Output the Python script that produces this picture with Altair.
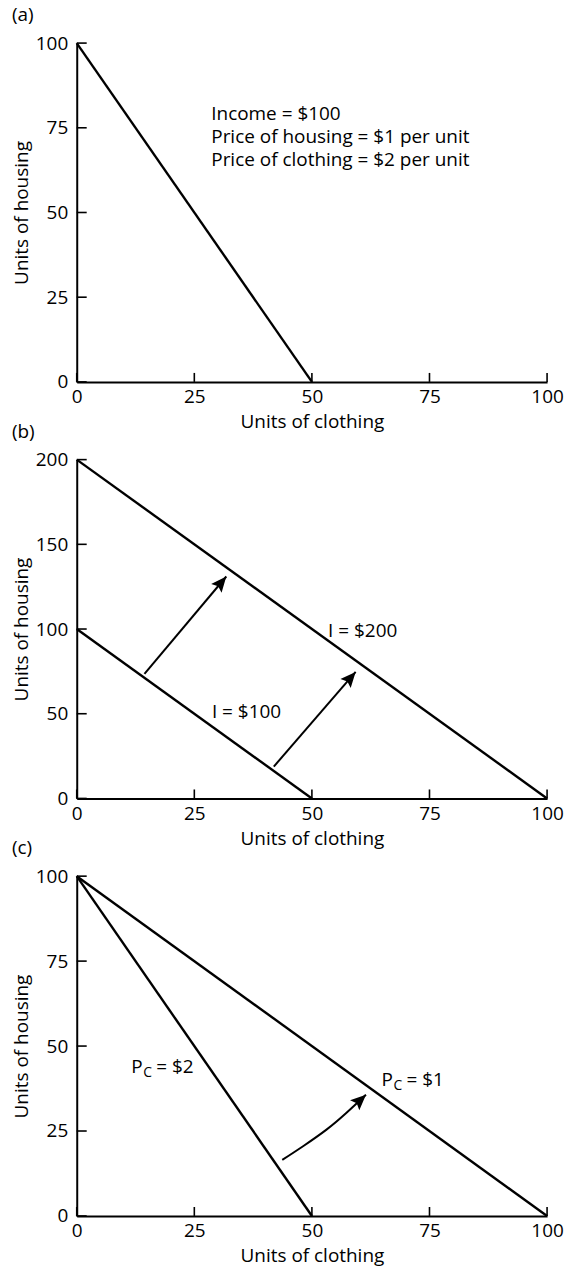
import math
import altair as alt
import pandas as pd

FONT = "Open Sans"
FS = 19
W = 472
H = 340

# ---- data -------------------------------------------------------------
x_ticks = [0, 25, 50, 75, 100]

# (a) one budget line: income $100, P_housing $1, P_clothing $2
a_line_x = [0, 50]
a_line_y = [100, 0]
a_y_ticks = [0, 25, 50, 75, 100]
a_note = ["Income = $100",
          "Price of housing = $1 per unit",
          "Price of clothing = $2 per unit"]
a_note_x = [28.6, 28.6, 28.6]
a_note_y = [79.2, 72.3, 65.4]

# (b) income rises from $100 to $200
b_low_x = [0, 50]
b_low_y = [100, 0]
b_high_x = [0, 100]
b_high_y = [200, 0]
b_y_ticks = [0, 50, 100, 150, 200]
b_arrow1_x = [14.4, 31.8]
b_arrow1_y = [73.5, 131.0]
b_arrow2_x = [41.9, 59.3]
b_arrow2_y = [18.8, 74.7]
b_labels = ["I = $100", "I = $200"]
b_label_x = [36.1, 60.8]
b_label_y = [51.0, 98.8]

# (c) price of clothing falls from $2 to $1
c_pc2_x = [0, 50]
c_pc2_y = [100, 0]
c_pc1_x = [0, 100]
c_pc1_y = [100, 0]
c_y_ticks = [0, 25, 50, 75, 100]
c_curve_x = [43.7, 48.2, 53.1, 57.3, 61.5]
c_curve_y = [16.5, 20.6, 25.4, 30.3, 35.7]
c_label_values = ["$2", "$1"]
c_label_x = [11.6, 64.8]
c_label_y = [43.9, 40.1]

# arrowhead drawn with its tip at the symbol origin, pointing up
HEAD = "M0,0 L0.44,1 L0,0.82 L-0.44,1 Z"


def xs():
    return alt.Scale(domain=[0, 100], nice=False, zero=True)


def ys(ymax):
    return alt.Scale(domain=[0, ymax], nice=False)


def enc_xy(ymax):
    # every layer uses the same field names so the shared axes merge cleanly
    return dict(x=alt.X("x:Q", scale=xs()), y=alt.Y("y:Q", scale=ys(ymax)))


def base_lines(series, ymax, y_ticks):
    rows = []
    for name, xv, yv in series:
        for i, (x, y) in enumerate(zip(xv, yv)):
            rows.append({"s": name, "x": x, "y": y, "o": i})
    df = pd.DataFrame(rows)
    return alt.Chart(df).mark_line(color="black", strokeWidth=2.4).encode(
        x=alt.X("x:Q", scale=xs(), title="Units of clothing",
                axis=alt.Axis(values=x_ticks, format="d")),
        y=alt.Y("y:Q", scale=ys(ymax), title="Units of housing",
                axis=alt.Axis(values=y_ticks, format="d")),
        detail="s:N",
        order="o:Q",
    )


def tick_layers(y_ticks, ymax, height):
    yt = alt.Chart(pd.DataFrame({"y": y_ticks})).mark_rule(
        color="black", strokeWidth=1.6).encode(
        y=alt.Y("y:Q", scale=ys(ymax)),
        x=alt.value(0), x2=alt.value(10))
    xt = alt.Chart(pd.DataFrame({"x": x_ticks})).mark_rule(
        color="black", strokeWidth=1.6).encode(
        x=alt.X("x:Q", scale=xs()),
        y=alt.value(height), y2=alt.value(height - 9))
    return [yt, xt]


def arrow(xv, yv, ymax, height, curved=False):
    df = pd.DataFrame({"x": xv, "y": yv, "o": list(range(len(xv)))})
    shaft = alt.Chart(df).mark_line(
        color="black", strokeWidth=2,
        interpolate="natural" if curved else "linear").encode(
        order="o:Q", **enc_xy(ymax))
    dxp = (xv[-1] - xv[-2]) * W / 100.0
    dyp = (yv[-1] - yv[-2]) * height / ymax
    ang = math.degrees(math.atan2(dxp, dyp)) % 360
    tip = pd.DataFrame({"x": [xv[-1]], "y": [yv[-1]], "a": [ang]})
    head = alt.Chart(tip).mark_point(
        shape=HEAD, filled=True, color="black", opacity=1, size=960,
        strokeWidth=0).encode(
        angle=alt.Angle("a:Q", scale=None), **enc_xy(ymax))
    return [shaft, head]


def panel_tag(tag):
    return alt.Chart(pd.DataFrame({"t": [tag]})).mark_text(
        align="left", baseline="middle", font=FONT, fontSize=FS,
        color="black").encode(
        text="t:N", x=alt.value(-65), y=alt.value(-28))


def text_layer(labels, xv, yv, ymax, size=FS, **kw):
    df = pd.DataFrame({"t": labels, "x": xv, "y": yv})
    return alt.Chart(df).mark_text(
        font=FONT, fontSize=size, color="black", baseline="middle", **kw).encode(
        text="t:N", **enc_xy(ymax))


# ---- panel (a) ---------------------------------------------------------
pa = alt.layer(
    base_lines([("a", a_line_x, a_line_y)], 100, a_y_ticks),
    *tick_layers(a_y_ticks, 100, H),
    text_layer(a_note, a_note_x, a_note_y, 100, align="left"),
    panel_tag("(a)"),
).properties(width=W, height=H)

# ---- panel (b) ---------------------------------------------------------
pb = alt.layer(
    base_lines([("low", b_low_x, b_low_y), ("high", b_high_x, b_high_y)],
               200, b_y_ticks),
    *tick_layers(b_y_ticks, 200, H),
    *arrow(b_arrow1_x, b_arrow1_y, 200, H),
    *arrow(b_arrow2_x, b_arrow2_y, 200, H),
    text_layer(b_labels, b_label_x, b_label_y, 200, align="center"),
    panel_tag("(b)"),
).properties(width=W, height=H)

# ---- panel (c) ---------------------------------------------------------
HC = 341
pc_P = text_layer(["P", "P"], c_label_x, c_label_y, 100, align="left")
pc_sub = text_layer(["C", "C"], c_label_x, c_label_y, 100, size=14,
                    align="left", dx=12, dy=6)
pc_rest = text_layer(["= " + v for v in c_label_values], c_label_x, c_label_y,
                     100, align="left", dx=25)
pc = alt.layer(
    base_lines([("pc2", c_pc2_x, c_pc2_y), ("pc1", c_pc1_x, c_pc1_y)],
               100, c_y_ticks),
    *tick_layers(c_y_ticks, 100, HC),
    *arrow(c_curve_x, c_curve_y, 100, HC, curved=True),
    pc_P, pc_sub, pc_rest,
    panel_tag("(c)"),
).properties(width=W, height=HC)

chart = alt.vconcat(pa, pb, pc, spacing=78, bounds="flush").properties(
    padding={"left": 12, "top": 4, "right": 5, "bottom": 5},
    background="white",
).configure_view(stroke=None).configure_axis(
    domainColor="black", domainWidth=2, ticks=False, grid=False,
    labelFont=FONT, labelFontSize=FS, labelColor="black",
    titleFont=FONT, titleFontSize=FS, titleColor="black",
    titleFontWeight="normal", labelFlush=False,
).configure_axisX(labelPadding=6, titlePadding=6).configure_axisY(
    labelPadding=9, titlePadding=4)

chart.save("out.html", embed_options={"renderer": "svg", "actions": False})
